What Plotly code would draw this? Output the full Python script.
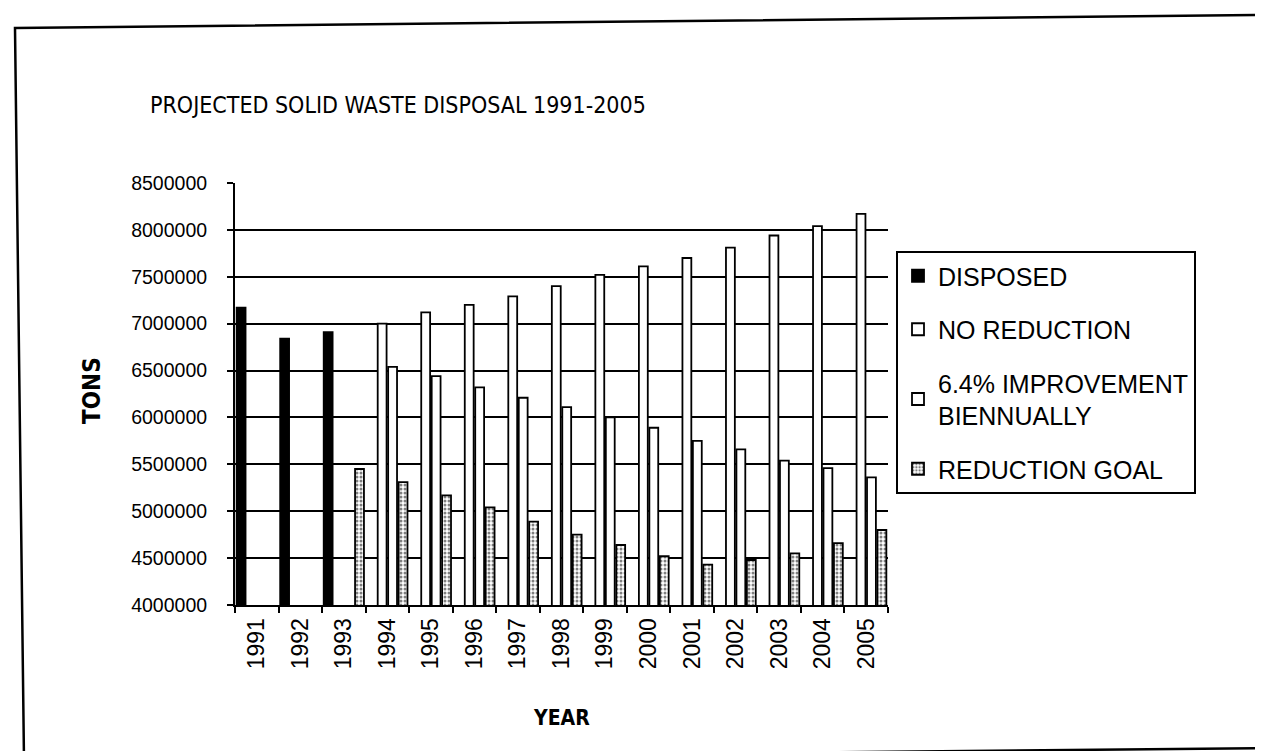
import plotly.graph_objects as go

# ---------------- data ----------------
years = ["1991", "1992", "1993", "1994", "1995", "1996", "1997", "1998",
         "1999", "2000", "2001", "2002", "2003", "2004", "2005"]
disposed = [7170000, 6840000, 6910000, None, None, None, None, None,
            None, None, None, None, None, None, None]
no_reduction = [None, None, None, 7000000, 7120000, 7200000, 7290000, 7400000,
                7520000, 7610000, 7700000, 7810000, 7940000, 8040000, 8170000]
improvement = [None, None, None, 6540000, 6440000, 6320000, 6210000, 6110000,
               6000000, 5890000, 5750000, 5660000, 5540000, 5460000, 5360000]
reduction_goal = [None, None, 5450000, 5310000, 5170000, 5040000, 4890000, 4750000,
                  4640000, 4520000, 4430000, 4480000, 4550000, 4660000, 4800000]
y_ticks = [4000000, 4500000, 5000000, 5500000, 6000000, 6500000,
           7000000, 7500000, 8000000, 8500000]

# ---------------- layout geometry (pixels) ----------------
W, H = 1263, 751
L, R, T, B = 227, 880, 175, 597   # plot area edges


def px(xp):
    return (xp - L) / (R - L)


def py(yp):
    return (B - yp) / (B - T)


FONT = "Liberation Sans, Arial, Helvetica, sans-serif"
NARROW = "Liberation Sans Narrow, Arial Narrow, DejaVu Sans Condensed, Liberation Sans, sans-serif"
OUT = dict(color="black", width=1.8)

fig = go.Figure()
fig.add_trace(go.Bar(x=years, y=disposed, name="DISPOSED", legendgroup="a",
                     marker=dict(color="black", line=OUT)))
fig.add_trace(go.Bar(x=years, y=no_reduction, name="NO REDUCTION", legendgroup="b",
                     marker=dict(color="white", line=OUT)))
fig.add_trace(go.Bar(x=years, y=improvement, name="6.4% IMPROVEMENT<br>BIENNUALLY",
                     legendgroup="c", marker=dict(color="white", line=OUT)))
fig.add_trace(go.Bar(x=years, y=reduction_goal, name="REDUCTION GOAL", legendgroup="d",
                     marker=dict(color="white", line=OUT,
                                 pattern=dict(shape=".", fgcolor="black", bgcolor="white",
                                              size=4, solidity=0.45))))

# skewed outer frame of the scanned page
frame = [(7, 20), (1255, 7), (1262, 740), (16, 752)]
path = "M " + " L ".join(f"{px(a):.5f},{py(b):.5f}" for a, b in frame) + " Z"

fig.update_layout(
    width=W, height=H,
    margin=dict(l=L, r=W - R, t=T, b=H - B, pad=0),
    paper_bgcolor="white", plot_bgcolor="white",
    font=dict(family=FONT, color="black"),
    barmode="group", bargap=0.04, bargroupgap=0.15,
    title=dict(text="PROJECTED SOLID WASTE DISPOSAL 1991-2005",
               x=142 / W, xref="container", xanchor="left",
               y=1 - 97 / H, yref="container", yanchor="middle",
               font=dict(size=23, family=NARROW, color="black")),
    xaxis=dict(type="category", tickson="boundaries", ticks="outside", ticklen=6,
               tickwidth=1.5, tickcolor="black", tickangle=-90,
               tickfont=dict(size=23), showline=True, linecolor="black", linewidth=2,
               showgrid=False, ticklabelstandoff=2),
    yaxis=dict(range=[4000000, 8500000], tickvals=y_ticks, tickformat="d",
               ticks="outside", ticklen=6, tickwidth=1.5, tickcolor="black",
               tickfont=dict(size=19.5), showline=True, linecolor="black", linewidth=2,
               showgrid=True, gridcolor="black", gridwidth=2, zeroline=False,
               ticklabelstandoff=16),
    legend=dict(x=px(888), y=py(243), xanchor="left", yanchor="top",
                bordercolor="black", borderwidth=2, bgcolor="white",
                font=dict(size=25, family=FONT), tracegroupgap=18,
                traceorder="grouped", itemclick=False),
    annotations=[
        dict(text="<b>TONS</b>", xref="paper", yref="paper", x=px(84), y=py(383),
             textangle=-90, showarrow=False, font=dict(size=24, family=NARROW),
             xanchor="center", yanchor="middle"),
        dict(text="<b>YEAR</b>", xref="paper", yref="paper", x=0.5, y=py(710),
             showarrow=False, font=dict(size=21, family=NARROW),
             xanchor="center", yanchor="middle"),
    ],
    shapes=[dict(type="path", path=path, xref="paper", yref="paper",
                 line=dict(color="black", width=2.5), layer="below")],
)

fig.write_html("out.html")
